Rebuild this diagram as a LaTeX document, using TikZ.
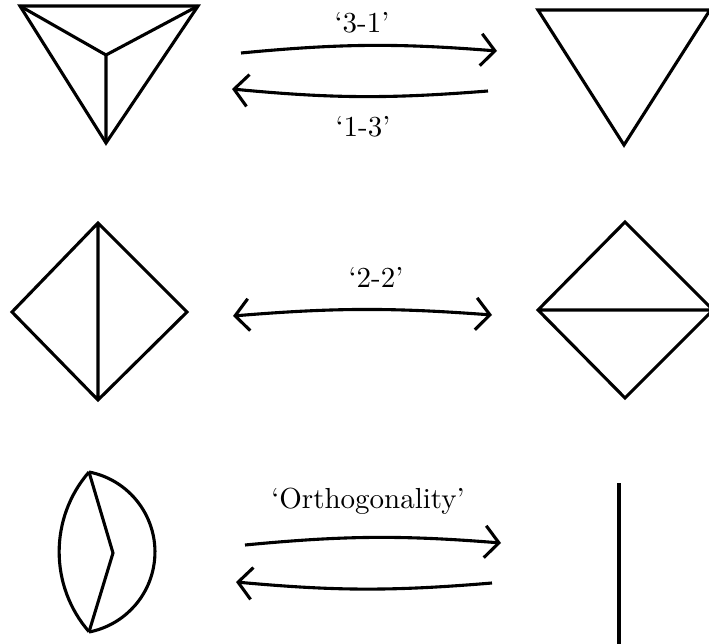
\documentclass[tikz,border=0pt]{standalone}
\usepackage{tikz}
\usepackage{graphicx}
\usetikzlibrary{arrows.meta}
\tikzset{
  edge/.style={line width=3.1pt, line join=miter},
  barb/.tip={Straight Barb[length=14pt,width=32pt,line width=3.1pt]},
  move/.style={line width=3.1pt, -barb},
  twomove/.style={line width=3.1pt, barb-barb},
  movename/.style={anchor=base, font=\fontsize{10}{12}\selectfont}
}
\newcommand{\movetext}[1]{\scalebox{2.9}{#1}}

\begin{document}
\begin{tikzpicture}[x=1pt,y=1pt]
        \useasboundingbox (0,0) rectangle (709,643);
        % row 1: triangle split in three <-> plain triangle
        \coordinate (t1a) at (20,637);
        \coordinate (t1b) at (198,637);
        \coordinate (t1c) at (106,500);
        \coordinate (t1o) at (106,588);
        \draw[edge] (t1a)--(t1b)--(t1c)--cycle;
        \draw[edge] (t1a)--(t1o)--(t1b) (t1o)--(t1c);
        \coordinate (t2a) at (538,633);
        \coordinate (t2b) at (710,633);
        \coordinate (t2c) at (624,498);
        \draw[edge] (t2a)--(t2b)--(t2c)--cycle;
        % moves
        \coordinate (m1s) at (241,590);
        \coordinate (m1e) at (497,592);
        \coordinate (m2s) at (488,552);
        \coordinate (m2e) at (232,554);
        \draw[move] (m1s) to[bend left=5] (m1e);
        \draw[move] (m2s) to[bend left=5] (m2e);
        \node[movename] (l31) at (362,610){\movetext{`3-1'}};
        \node[movename] (l13) at (363,506){\movetext{`1-3'}};
        % row 2: diagonal flip
        \coordinate (d1l) at (12,331);
        \coordinate (d1t) at (98,420);
        \coordinate (d1r) at (187,331);
        \coordinate (d1b) at (98,243);
        \draw[edge] (d1l)--(d1t)--(d1r)--(d1b)--cycle (d1t)--(d1b);
        \coordinate (d2l) at (538,333);
        \coordinate (d2t) at (625,421);
        \coordinate (d2r) at (713,333);
        \coordinate (d2b) at (625,245);
        \draw[edge] (d2l)--(d2t)--(d2r)--(d2b)--cycle (d2l)--(d2r);
        \coordinate (m3s) at (233,327);
        \coordinate (m3e) at (492,328);
        \draw[twomove] (m3s) to[bend left=4.5] (m3e);
        \node[movename] (l22) at (376,355){\movetext{`2-2'}};
        % row 3: lens collapses to an edge
        \coordinate (lt) at (89,171);
        \coordinate (lb) at (89,11);
        \coordinate (lm) at (113,90);
        \draw[edge] (lt) arc[start angle=79, end angle=-79, radius=81.5];
        \draw[edge] (lt) arc[start angle=139, end angle=221, radius=121.7];
        \draw[edge] (lt)--(lm)--(lb);
        \coordinate (et) at (619,160);
        \coordinate (eb) at (619,-2);
        \draw[edge] (et)--(eb);
        \coordinate (m4s) at (245,98);
        \coordinate (m4e) at (501,100);
        \coordinate (m5s) at (492,60);
        \coordinate (m5e) at (236,61);
        \draw[move] (m4s) to[bend left=5] (m4e);
        \draw[move] (m5s) to[bend left=5] (m5e);
        \node[movename] (lor) at (368,135){\movetext{`Orthogonality'}};
      \end{tikzpicture}
\end{document}
